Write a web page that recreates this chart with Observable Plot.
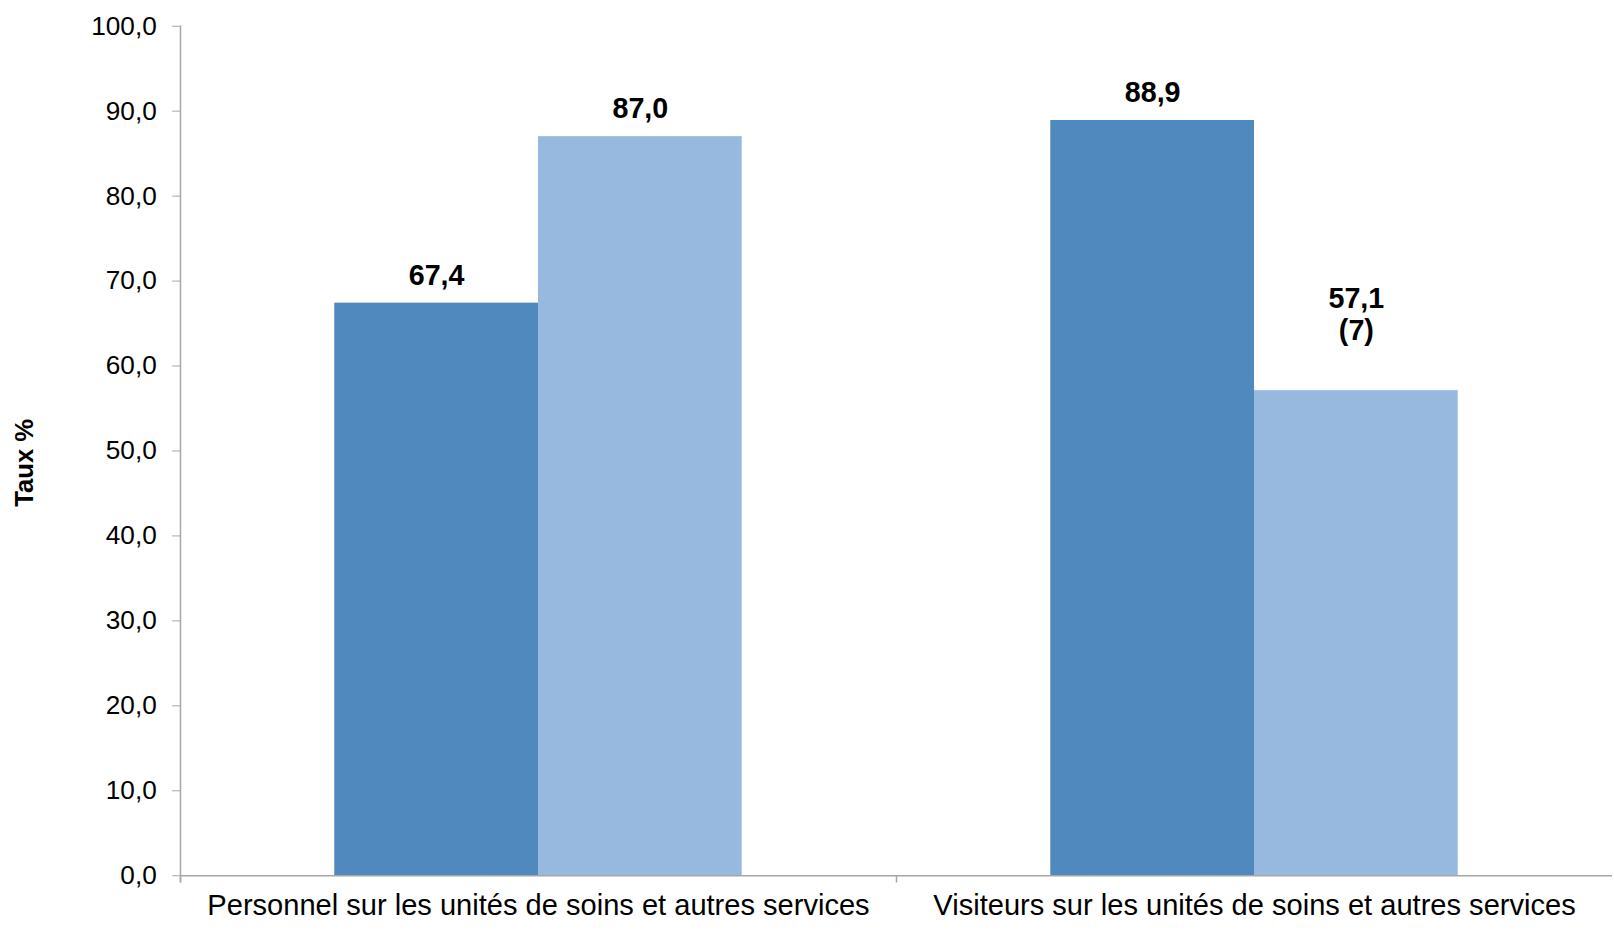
<!DOCTYPE html>
<html><head><meta charset="utf-8">
<script src="https://cdn.jsdelivr.net/npm/d3@7"></script>
<script src="https://cdn.jsdelivr.net/npm/@observablehq/plot@0.6"></script>
<style>html,body{margin:0;padding:0;background:#fff;overflow:hidden}</style>
</head><body><div id="chart"></div>
<script>
const categories = [
  "Personnel sur les unités de soins et autres services",
  "Visiteurs sur les unités de soins et autres services"
];
const series = ["Série 1", "Série 2"];
const series1Values = [67.4, 88.9];
const series2Values = [87.0, 57.1];
const series2Notes = ["", "(7)"];
const yTicks = [0, 10, 20, 30, 40, 50, 60, 70, 80, 90, 100];
const colors = ["#4F89BD", "#97B9E0"];
const axisColor = "#a6a6a6";
const yLabel = "Taux %";

const fmt = v => v.toFixed(1).replace(".", ",");
const data = [];
categories.forEach((c, i) => {
  data.push({category: c, series: series[0], value: series1Values[i], note: ""});
  data.push({category: c, series: series[1], value: series2Values[i], note: series2Notes[i]});
});
data.forEach(d => d.label = fmt(d.value) + (d.note ? "\n" + d.note : ""));

const W = 1632, H = 932, mTop = 26, mBottom = 47, mLeft = 182, mRight = 2;
const plotH = H - mTop - mBottom;

const chart = Plot.plot({
  width: W, height: H,
  marginTop: mTop, marginBottom: mBottom, marginLeft: mLeft, marginRight: mRight,
  style: {fontFamily: "'Liberation Sans', Arial, sans-serif", fontSize: "26px", background: "#fff", color: "#000"},
  fx: {domain: categories, padding: 0, label: null, axis: null},
  x: {domain: series, paddingInner: 0, paddingOuter: 0.753, axis: null},
  y: {domain: [0, 100], axis: null},
  color: {domain: series, range: colors},
  marks: [
    Plot.barY(data, {fx: "category", x: "series", y: "value", fill: "series"}),
    Plot.ruleY([0], {stroke: axisColor, strokeWidth: 1.5}),
    Plot.frame({anchor: "left", facetAnchor: "left", stroke: axisColor, strokeWidth: 1.5, insetBottom: -6}),
    Plot.frame({anchor: "left", stroke: axisColor, strokeWidth: 1.5, insetTop: plotH, insetBottom: -6}),
    Plot.axisY({ticks: yTicks, tickFormat: fmt, tickSize: 8, tickPadding: 16, fontSize: 26.5, stroke: axisColor, fill: "#000", label: null}),
    Plot.axisFx({anchor: "bottom", tickSize: 0, tickPadding: 19, fontSize: 29.4, label: null, fill: "#000"}),
    Plot.text([yLabel], {frameAnchor: "left", facetAnchor: "left", textAnchor: "middle", dx: -157, dy: 12, rotate: -90, fontWeight: "bold", fontSize: 26, fill: "#000"}),
    Plot.text(data.filter(d => !d.note), {fx: "category", x: "series", y: "value", text: "label", dy: -28, fontWeight: "bold", fontSize: 29, fill: "#000", lineAnchor: "middle"}),
    Plot.text(data.filter(d => d.note), {fx: "category", x: "series", y: "value", text: "label", dy: -78, fontWeight: "bold", fontSize: 29, fill: "#000", lineAnchor: "middle", lineHeight: 1.14})
  ]
});
document.getElementById("chart").appendChild(chart);
</script>
</body></html>
